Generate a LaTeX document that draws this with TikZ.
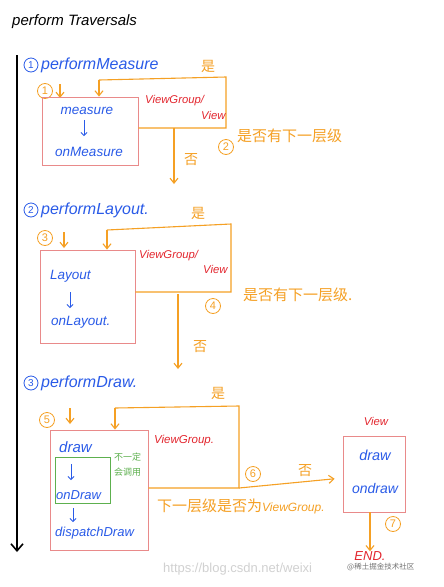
\documentclass[tikz,border=0pt]{standalone}
\usepackage{fontspec}
\setmainfont{Liberation Sans}
\newfontfamily\cjk{Noto Sans CJK SC}
\usetikzlibrary{arrows.meta}
\definecolor{hblue}{HTML}{2A5BE8}
\definecolor{horange}{HTML}{F5A024}
\definecolor{hred}{HTML}{E3262E}
\definecolor{hbox}{HTML}{E98A8A}
\definecolor{hgreen}{HTML}{5DB04E}
\begin{document}
\begin{tikzpicture}[x=1pt,y=-1pt,
  every node/.style={inner sep=0pt},
  ttl/.style={font=\itshape\fontsize{16}{16}\selectfont, text=hblue, anchor=west},
  btxt/.style={font=\itshape\fontsize{13.5}{13.5}\selectfont, text=hblue},
  rtxt/.style={font=\itshape\fontsize{11.3}{11.3}\selectfont, text=hred},
  otxt/.style={font=\cjk\fontsize{14}{14}\selectfont, text=horange},
  qtxt/.style={font=\cjk\fontsize{15}{15}\selectfont, text=horange, anchor=west},
  gtxt/.style={font=\cjk\fontsize{9}{15}\selectfont, text=hgreen, align=left},
  bnum/.style={circle, draw=hblue, thick, minimum size=14pt, text=hblue, font=\fontsize{10}{10}\selectfont},
  onum/.style={circle, draw=horange, thick, minimum size=15pt, text=horange, font=\fontsize{11}{11}\selectfont},
  rbox/.style={draw=hbox, line width=0.8pt},
  oline/.style={draw=horange, line width=1.1pt},
  oarr/.style={draw=horange, line width=1.1pt, -{Straight Barb[length=5pt,width=8pt]}},
  barr/.style={draw=hblue, line width=0.8pt, -{Straight Barb[length=3pt,width=6pt]}},
]
\useasboundingbox (0,0) rectangle (444,587);
\fill[white] (0,0) rectangle (444,587);

% title and main timeline
\node[anchor=west, font=\itshape\fontsize{15}{15}\selectfont] (title) at (12,22) {perform Traversals};
\coordinate (mtop) at (17,55);
\coordinate (mbot) at (17,552);
\draw[line width=1.6pt, -{Straight Barb[length=7pt,width=12pt]}] (mtop) -- (mbot);

% ===== Section 1 =====
\node[bnum] (c1) at (31,65) {1};
\node[ttl] (t1) at (41,65) {performMeasure};
\node[onum] (o1) at (45,91) {1};
\coordinate (s1a) at (60,84); \coordinate (s1b) at (60,98);
\draw[oarr] (s1a) -- (s1b);
\node[rbox, minimum width=96pt, minimum height=68pt] (box1) at (90,131) {};
\node[btxt] (m1) at (87,111) {measure};
\node[btxt] (m2) at (89,152) {onMeasure};
\draw[barr] (m1.south) ++(-3,5) -- (84,136);
\coordinate (l1r) at (226,128);
\coordinate (l1t) at (226,77);
\coordinate (l1l) at (99,80);
\draw[oline] (box1.east |- l1r) -- (l1r) -- (l1t) -- (l1l);
\draw[oarr] (l1l) -- (l1l |- box1.north);
\node[rtxt, anchor=west] (vg1) at (145,101) {ViewGroup/};
\node[rtxt, anchor=west] (v1) at (201,115) {View};
\node[otxt] (y1) at (208,66) {是};
\coordinate (d1a) at (174,128); \coordinate (d1b) at (174,184);
\draw[oarr] (d1a) -- (d1b);
\node[otxt] (n1) at (191,160) {否};
\node[onum] (o2) at (226,147) {2};
\node[qtxt] (q1) at (237,136) {是否有下一层级};

% ===== Section 2 =====
\node[bnum] (c2) at (31,210) {2};
\node[ttl] (t2) at (41,210) {performLayout.};
\node[onum] (o3) at (45,238) {3};
\coordinate (s2a) at (64,232); \coordinate (s2b) at (64,248);
\draw[oarr] (s2a) -- (s2b);
\node[rbox, minimum width=95pt, minimum height=93pt] (box2) at (87.5,296.5) {};
\node[btxt, anchor=west] (la1) at (50,276) {Layout};
\node[btxt, anchor=west] (la2) at (51,322) {onLayout.};
\draw[barr] (70,292) -- (70,308);
\coordinate (l2r) at (231,292);
\coordinate (l2t) at (231,224);
\coordinate (l2l) at (107,230);
\draw[oline] (box2.east |- l2r) -- (l2r) -- (l2t) -- (l2l);
\draw[oarr] (l2l) -- (l2l |- box2.north);
\node[rtxt, anchor=west] (vg2) at (139,256) {ViewGroup/};
\node[rtxt, anchor=west] (v2) at (203,269) {View};
\node[otxt] (y2) at (198,213) {是};
\coordinate (d2a) at (178,294); \coordinate (d2b) at (178,369);
\draw[oarr] (d2a) -- (d2b);
\node[otxt] (n2) at (200,347) {否};
\node[onum] (o4) at (213,306) {4};
\node[qtxt] (q2) at (243,295) {是否有下一层级.};

% ===== Section 3 =====
\node[bnum] (c3) at (31,383) {3};
\node[ttl] (t3) at (41,383) {performDraw.};
\node[onum] (o5) at (47,420) {5};
\coordinate (s3a) at (70,408); \coordinate (s3b) at (70,424);
\draw[oarr] (s3a) -- (s3b);
\node[rbox, minimum width=98pt, minimum height=120pt] (box3) at (99,490) {};
\node[draw=hgreen, line width=0.8pt, minimum width=55pt, minimum height=46pt] (gbox) at (82.5,480) {};
\node[btxt, anchor=west, font=\itshape\fontsize{15}{15}\selectfont] (dr) at (59,447) {draw};
\node[btxt, anchor=west, font=\itshape\fontsize{13}{13}\selectfont] (od) at (56,495) {onDraw};
\node[btxt, anchor=west, font=\itshape\fontsize{13}{13}\selectfont] (dd) at (55,533) {dispatchDraw};
\draw[barr] (71,464) -- (71,480);
\draw[barr] (73,508) -- (73,522);
\node[gtxt, anchor=north west] (gn) at (114,453) {不一定\\会调用};
\coordinate (l3r) at (239,488);
\coordinate (l3t) at (239,406);
\coordinate (l3l) at (115,408);
\draw[oline] (box3.east |- l3r) -- (l3r) -- (l3t) -- (l3l);
\draw[oarr] (l3l) -- (l3l |- box3.north);
\node[rtxt, anchor=west, font=\itshape\fontsize{11.5}{11.5}\selectfont] (vg3) at (154,441) {ViewGroup.};
\node[otxt] (y3) at (218,393) {是};
\node[rbox, minimum width=62pt, minimum height=76pt] (box4) at (374,474) {};
\draw[oarr, shorten >=8pt] (l3r) -- (box4.west |- 0,478);
\node[onum] (o6) at (253,474) {6};
\node[otxt] (n3) at (305,471) {否};
\node[qtxt, font=\cjk\fontsize{15}{15}\selectfont] (q3) at (157,506) {下一层级是否为{\rmfamily\itshape\fontsize{12}{12}\selectfont ViewGroup.}};
\node[rtxt] (vw) at (376,421) {View};
\node[btxt, font=\itshape\fontsize{14.5}{14.5}\selectfont] (rd1) at (375,455) {draw};
\node[btxt, font=\itshape\fontsize{14}{14}\selectfont] (rd2) at (375,488) {ondraw};
\node[rtxt, font=\itshape\fontsize{13}{13}\selectfont] (endn) at (370,556) {END.};
\draw[oarr] (box4.south -| endn) -- (endn.north);
\node[onum] (o7) at (393,524) {7};

% watermark
\node[anchor=west, text=black!18, font=\fontsize{13}{13}\selectfont] (wm1) at (163,569) {https://blog.csdn.net/weixi};
\node[anchor=west, fill=white, inner sep=1pt, text=black!55, font=\cjk\fontsize{7.5}{8}\selectfont] (wm2) at (346,567) {@稀土掘金技术社区};
\end{tikzpicture}
\end{document}
